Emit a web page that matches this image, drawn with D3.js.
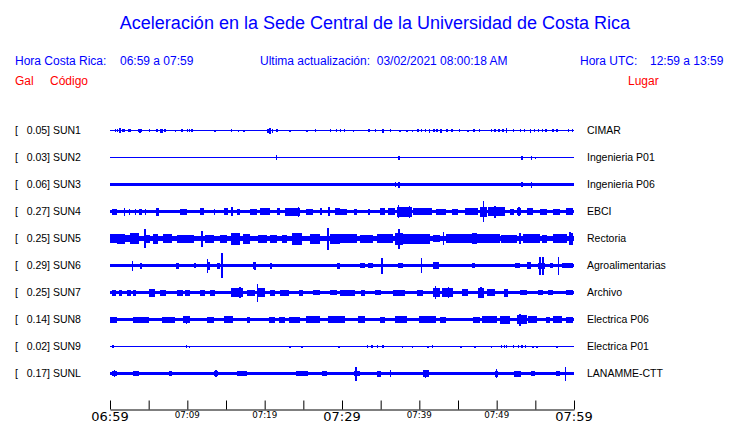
<!DOCTYPE html>
<html><head><meta charset="utf-8">
<script src="https://cdn.jsdelivr.net/npm/d3@7"></script>
<style>body{margin:0;background:#fff}svg{display:block}</style>
</head><body>
<svg id="chart" width="740" height="423"></svg>
<script>
// ---- data ----
const codes  = ["SUN1","SUN2","SUN3","SUN4","SUN5","SUN6","SUN7","SUN8","SUN9","SUNL"];
const peaks  = [0.05, 0.03, 0.06, 0.27, 0.25, 0.29, 0.25, 0.14, 0.02, 0.17];
const places = ["CIMAR","Ingenieria P01","Ingenieria P06","EBCI","Rectoria","Agroalimentarias","Archivo","Electrica P06","Electrica P01","LANAMME-CTT"];
// background noise half-amplitude per trace (counts)
const baseAmp = [0.6, 0.6, 1.7, 1.8, 2.8, 1.9, 1.8, 1.8, 0.6, 1.8];
// time ticks: minutes after 06:59
const tickMinutes = [0,5,10,15,20,25,30,35,40,45,50,55,60];
const tickLabels  = ["06:59","","07:09","","07:19","","07:29","","07:39","","07:49","","07:59"];
const majorTicks  = ["06:59","07:29","07:59"];

// bursts: [startMinute, endMinute, amplitude]; spikes: [minute, amplitude]
const burstsSUN1 = [];
const spikesSUN1 = [[0.7,1.5],[0.95,1.5],[1.3,2.5],[1.65,1.5],[1.85,1.5],[2.4,1.5],[2.6,1.5],[3.7,1.5],[3.9,2],[4.1,1.5],[5.1,1.5],[6.1,1.5],[6.55,2],[6.75,2],[7.1,1.5],[8.5,1],[9.3,1.5],[10,1.5],[10.3,1.5],[10.6,1.5],[13.6,1],[15.7,1.5],[16.6,1],[17.3,1],[20.4,2],[20.7,3],[21.0,2],[21.6,1.5],[23.3,1],[25.5,1],[26.6,1.5],[28.5,1.5],[29.3,1.5],[29.8,1.5],[30.3,1.5],[31.5,1],[33.5,1.5],[34.3,1.5],[35.3,2],[36.3,1.5],[37.5,1],[38.4,1],[39.1,1],[39.8,1.5],[40.3,1.5],[40.8,1.5],[41.3,2],[41.9,1.5],[42.3,1.5],[42.8,2],[43.6,1.5],[44.2,1.5],[45.2,1.5],[46.3,1],[47.1,1.5],[47.8,1.5],[49.3,1.5],[49.8,1.5],[50.3,1.5],[50.8,1.5],[51.3,2.5],[52.2,1.5],[53.1,1.5],[53.6,1.5],[54.4,2],[54.9,1.5],[55.4,1.5],[55.9,1.5],[56.4,1.5],[57.3,1.5],[57.8,1.5],[59.3,1.5],[59.8,1.5]];

const burstsSUN2 = [];
const spikesSUN2 = [[21.5,2.5],[37.4,2],[53.3,2],[54.5,2],[55,1]];

const burstsSUN3 = [];
const spikesSUN3 = [[36.9,2.5],[37.4,3],[53.3,2.5],[54.5,3]];

const burstsSUN4 = [[0.2,0.9,3],[2.4,2.6,3],[3.2,3.4,3],[3.8,4.1,3],[4.5,4.7,3],[6.0,6.4,4],[9.0,9.9,3],[11.6,12.1,3.5],[13.4,13.6,3],[14.7,15.3,3.5],[15.7,15.9,4.5],[16.4,16.8,3],[18.1,19.0,3],[19.4,20.7,3.5],[21.6,22.0,3.5],[22.6,24.6,4],[25.4,26.3,3],[27.2,27.4,3.5],[28.2,28.4,4.5],[29.1,29.7,3.5],[29.7,30.6,3],[31.5,31.9,3],[33.4,33.6,3],[34.9,35.6,3.5],[36.0,36.9,3.5],[37.1,39.0,5],[39.2,41.6,3.5],[42.2,43.5,3],[44.2,45.0,3],[45.9,47.6,3.5],[47.8,48.7,5],[48.9,51.1,4.5],[51.7,52.2,3],[52.6,53.2,3.5],[53.9,54.7,3.5],[55.6,56.5,3],[57.3,58.2,3],[59.0,59.9,3.5]];
const spikesSUN4 = [[1.9,4],[24.4,5],[37.3,6.5],[38.7,6],[48.3,10.5],[49.8,6],[52.9,4.5]];

const burstsSUN5 = [[0,0.9,4.5],[0.9,1.9,5],[1.9,2.8,3.5],[2.6,3.7,5.5],[4.7,5.2,4],[5.6,6.2,5],[6.9,8.0,4.5],[8.6,10.8,4],[12.3,13.4,4],[14.2,15.1,4],[15.7,16.8,6],[17.2,18.1,5],[19.2,20.3,4],[20.7,21.6,4],[22.2,22.9,4],[23.5,24.8,6],[25.9,27.2,5],[28.4,29.7,5],[29.7,31.9,4.5],[32.3,34.0,4],[34.5,36.6,4.5],[36.8,37.9,6],[37.9,41.4,5],[41.8,42.7,3.5],[43.5,47.0,4.5],[46.8,47.4,5.5],[47.4,50.4,4.5],[50.6,52.6,4],[53.4,55.6,4.5],[55.8,56.5,4],[57.3,59.1,4.5],[59.3,59.9,6]];
const spikesSUN5 = [[4.5,9.5],[7.9,4.5],[11.9,8],[28.2,11],[37.4,10],[43.1,6.5],[53.0,5.5],[59.5,6.5]];

const burstsSUN6 = [[3.9,4.2,3],[8.5,8.9,3],[12.5,12.9,4],[13.8,14.2,3],[18.5,18.9,3.5],[20.7,21.0,3],[29.4,29.7,3],[32.3,33.0,2.5],[33.4,34.0,2.5],[37.3,37.9,2.5],[41.8,42.5,3.5],[46.8,47.2,2.5],[52.4,53.0,2.5],[53.9,54.5,3.5],[55.4,56.2,3],[56.9,57.3,2.5],[58.4,59.9,2.5]];
const spikesSUN6 = [[2.9,5],[11.0,2.5],[12.6,7],[14.5,12.5],[18.75,4],[35.2,8],[40.3,7.5],[42.2,3.5],[55.6,9],[56.0,9],[58.0,9]];

const burstsSUN7 = [[0.2,0.8,3],[1.2,1.6,3],[2.2,2.7,3],[3.0,3.4,3],[5.0,5.8,4],[6.5,7.3,3],[8.6,9.5,3],[9.7,10.3,3],[11.6,12.3,3],[12.9,13.6,3],[15.7,17.2,4.5],[17.7,18.8,3],[19.0,20.0,4.5],[20.7,21.3,3],[22.0,23.1,3],[24.4,25.0,3],[26.3,27.2,2.5],[28.4,29.3,2.5],[29.7,31.7,3],[32.5,33.0,3],[34.3,35.1,2.5],[36.6,38.1,3],[39.7,40.5,3],[41.8,42.7,4.5],[42.9,44.4,4.5],[45.5,46.3,3.5],[47.6,48.3,5],[48.7,49.8,3.5],[50.9,51.5,4],[53.0,53.9,2.5],[55.4,56.0,2.5],[56.7,57.3,2.5],[59.0,59.9,2.5]];
const spikesSUN7 = [[16.8,5.5],[19.05,9],[42.1,6.3],[43.8,5.5],[48.0,5.5]];

const burstsSUN8 = [[0,0.9,3],[3.0,5.0,3],[6.7,8.4,3],[9.5,10.3,3.5],[12.5,13.4,3],[14.7,15.9,3.5],[17.7,18.1,3],[20.5,21.3,3],[21.9,22.6,3],[23.2,24.6,3],[25.4,27.2,3.5],[28.2,29.7,3.5],[29.7,30.4,3.5],[32.1,33.0,3.5],[34.9,35.6,3],[36.9,38.4,3.5],[39.9,42.2,3.5],[42.7,43.5,3],[47.0,47.8,3],[48.1,50.0,3.5],[50.4,51.7,4],[52.6,53.9,4.5],[54.1,55.2,3.5],[56.4,56.9,3],[57.3,58.4,3.5],[59.0,59.9,3]];
const spikesSUN8 = [[9.9,4],[53.0,6]];

const burstsSUN9 = [];
const spikesSUN9 = [[0.4,1.5],[9.9,1.5],[10.3,1],[23.3,1],[24.8,1],[29.6,1],[33.3,1.5],[33.9,1.5],[34.6,1.5],[35.3,1.5],[37.8,1],[39.1,1],[41.1,1],[41.7,1.5],[45.4,1],[47.2,1],[49.3,1],[50.6,1.5],[51.0,1.5],[51.3,1.5],[52.2,1.5],[52.8,1.5],[53.3,1.5],[53.7,1.5],[54.7,1],[55.2,1],[57.8,1]];

const burstsSUNL = [[0.2,0.9,2.5],[3.0,3.7,2.5],[7.6,8.0,2.2],[13.4,14.0,2.5],[16.4,17.7,2.5],[24.1,25.6,2.5],[27.4,28.0,2.5],[31.5,32.3,2.5],[34.5,35.1,3],[40.5,41.2,3.5],[49.8,50.2,3],[52.2,53.2,3],[54.5,55.0,2.5],[57.7,58.2,2.5]];
const spikesSUNL = [[0.56,3.5],[13.7,3.5],[31.8,7],[36.3,3.5],[40.8,4],[50.0,4.5],[58.9,7]];

const burstsList = [burstsSUN1,burstsSUN2,burstsSUN3,burstsSUN4,burstsSUN5,burstsSUN6,burstsSUN7,burstsSUN8,burstsSUN9,burstsSUNL];
const spikesList = [spikesSUN1,spikesSUN2,spikesSUN3,spikesSUN4,spikesSUN5,spikesSUN6,spikesSUN7,spikesSUN8,spikesSUN9,spikesSUNL];

// ---- drawing ----
const BLUE = "#0000ff", RED = "#ff0000";
const svg = d3.select("#chart");
const x = d3.scaleLinear().domain([0, 60]).range([110, 574]);
const y = d3.scalePoint().domain(codes).range([130.5, 373.5]);
const a = d3.scaleLinear().domain([0, 1]).range([0, 1]); // counts -> px

const sans = "'Liberation Sans', Arial, Helvetica, sans-serif";

svg.append("text").attr("x", 375).attr("y", 29).attr("text-anchor", "middle")
  .attr("font-family", sans).attr("font-size", 18).attr("fill", BLUE)
  .text("Aceleración en la Sede Central de la Universidad de Costa Rica");

const header = [
  {t:"Hora Costa Rica:", x:15, y:65, c:BLUE},
  {t:"06:59 a 07:59", x:120, y:65, c:BLUE},
  {t:"Ultima actualización:  03/02/2021 08:00:18 AM", x:260, y:65, c:BLUE},
  {t:"Hora UTC:", x:580, y:65, c:BLUE},
  {t:"12:59 a 13:59", x:650, y:65, c:BLUE},
  {t:"Gal", x:15, y:85, c:RED},
  {t:"Código", x:50, y:85, c:RED},
  {t:"Lugar", x:628, y:85, c:RED}
];
svg.selectAll("text.hdr").data(header).join("text").attr("class","hdr")
  .attr("x", d => d.x).attr("y", d => d.y).attr("fill", d => d.c)
  .attr("font-family", sans).attr("font-size", 12).style("white-space","pre")
  .text(d => d.t);

const rows = svg.selectAll("g.row").data(codes).join("g").attr("class","row");

rows.append("text").attr("x", 15).attr("y", d => y(d) + 3.5)
  .attr("font-family", sans).attr("font-size", 10.5).attr("fill", "#000")
  .style("white-space","pre")
  .text((d,i) => "[   " + peaks[i].toFixed(2) + "] " + d);

rows.append("text").attr("x", 587).attr("y", d => y(d) + 3.5)
  .attr("font-family", sans).attr("font-size", 10.5).attr("fill", "#000")
  .text((d,i) => places[i]);

rows.append("rect")
  .attr("x", x(0)).attr("width", x(60) - x(0))
  .attr("y", (d,i) => y(d) - a(baseAmp[i]))
  .attr("height", (d,i) => 2 * a(baseAmp[i]))
  .attr("fill", BLUE).attr("shape-rendering","crispEdges");

rows.each(function(code, i) {
  const g = d3.select(this);
  const yc = y(code);
  g.selectAll("rect.burst").data(burstsList[i]).join("rect").attr("class","burst")
    .attr("x", d => x(d[0])).attr("width", d => Math.max(1.5, x(d[1]) - x(d[0])))
    .attr("y", d => yc - a(d[2])).attr("height", d => 2 * a(d[2]))
    .attr("fill", BLUE).attr("shape-rendering","crispEdges");
  g.selectAll("rect.spike").data(spikesList[i]).join("rect").attr("class","spike")
    .attr("x", d => x(d[0]) - 0.75).attr("width", 1.5)
    .attr("y", d => yc - a(d[1])).attr("height", d => 2 * a(d[1]))
    .attr("fill", BLUE).attr("shape-rendering","crispEdges");
});

const axis = d3.axisBottom(x).tickValues(tickMinutes).tickSizeInner(-9).tickSizeOuter(0).tickFormat("");
const ax = svg.append("g").attr("transform", "translate(0,409.5)").call(axis);
ax.selectAll("path,line").attr("stroke", "#000").attr("stroke-width", 1);

svg.selectAll("text.tick").data(tickMinutes.filter((m,i) => tickLabels[i] !== ""))
  .join("text").attr("class","tick")
  .attr("x", m => x(m)).attr("text-anchor", "middle")
  .attr("font-family", "'DejaVu Sans', sans-serif")
  .attr("y", m => majorTicks.includes(tickLabels[tickMinutes.indexOf(m)]) ? 420.5 : 418)
  .attr("font-size", m => majorTicks.includes(tickLabels[tickMinutes.indexOf(m)]) ? 13 : 8.7)
  .attr("fill", "#000")
  .text(m => tickLabels[tickMinutes.indexOf(m)]);
</script>
</body></html>
